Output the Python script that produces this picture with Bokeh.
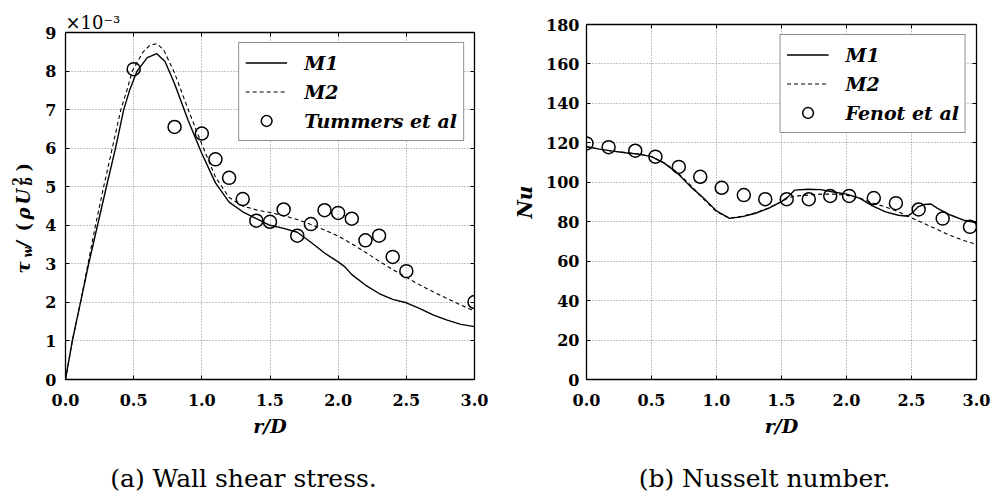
import math
from bokeh.plotting import figure
from bokeh.layouts import row, column
from bokeh.models import (Label, Legend, LegendItem, LinearAxis, FixedTicker,
                          Range1d, PrintfTickFormatter)
from bokeh.embed import file_html
from bokeh.resources import INLINE

# ---------------- data ----------------
x_ticks = [0.0, 0.5, 1.0, 1.5, 2.0, 2.5, 3.0]
tau_ticks = [0, 1, 2, 3, 4, 5, 6, 7, 8, 9]
nu_ticks = [0, 20, 40, 60, 80, 100, 120, 140, 160, 180]

# (a) wall shear stress, values in units of 1e-3
tau_m1_x = [0, 0.05, 0.11, 0.17, 0.235, 0.30, 0.367, 0.427, 0.47, 0.525, 0.60, 0.67, 0.73,
            0.8, 0.9, 1.0, 1.1, 1.2, 1.3, 1.4, 1.5, 1.6, 1.7, 1.8, 1.9, 2.0, 2.05, 2.1,
            2.2, 2.3, 2.4, 2.5, 2.6, 2.7, 2.8, 2.9, 3.0]
tau_m1_y = [0, 1.0, 2.0, 3.0, 4.0, 5.0, 6.0, 7.0, 7.5, 8.0, 8.35, 8.45, 8.25,
            7.67, 6.72, 5.86, 5.1, 4.6, 4.35, 4.17, 4.0, 3.92, 3.82, 3.56, 3.28, 3.05, 2.92, 2.72,
            2.45, 2.23, 2.08, 1.99, 1.84, 1.67, 1.54, 1.43, 1.37]
tau_m2_x = [0, 0.05, 0.11, 0.165, 0.22, 0.28, 0.343, 0.406, 0.45, 0.49, 0.57, 0.62, 0.67, 0.72,
            0.8, 0.9, 1.0, 1.1, 1.2, 1.3, 1.4, 1.5, 1.6, 1.7, 1.8, 1.9, 2.0, 2.1,
            2.2, 2.3, 2.4, 2.5, 2.6, 2.7, 2.8, 2.9, 3.0]
tau_m2_y = [0, 1.0, 2.0, 3.0, 4.0, 5.0, 6.0, 7.0, 7.5, 8.0, 8.5, 8.67, 8.71, 8.55,
            7.95, 7.0, 6.1, 5.25, 4.72, 4.5, 4.4, 4.33, 4.25, 4.15, 4.02, 3.88, 3.72, 3.52,
            3.3, 3.07, 2.85, 2.65, 2.45, 2.27, 2.1, 1.93, 1.77]
tummers_x = [0.5, 0.8, 1.0, 1.1, 1.2, 1.3, 1.4, 1.5, 1.6, 1.7, 1.8, 1.9, 2.0, 2.1,
             2.2, 2.3, 2.4, 2.5, 3.0]
tummers_y = [8.05, 6.55, 6.38, 5.71, 5.23, 4.68, 4.12, 4.09, 4.41, 3.73, 4.03, 4.39,
             4.32, 4.17, 3.61, 3.73, 3.18, 2.81, 2.01]

# (b) Nusselt number
nu_m1_x = [0, 0.1, 0.2, 0.3, 0.4, 0.5, 0.6, 0.7, 0.8, 0.9, 1.0, 1.1, 1.2, 1.3, 1.4, 1.5,
           1.55, 1.6, 1.7, 1.8, 1.9, 2.0, 2.1, 2.2, 2.3, 2.4, 2.47, 2.5, 2.55, 2.6, 2.65,
           2.7, 2.8, 2.9, 3.0]
nu_m1_y = [118, 116.8, 115.8, 115, 114.3, 113, 109.6, 104.6, 97.8, 92, 85.5, 81.7, 82.6,
           84.3, 86.8, 90.2, 92.6, 96, 96.5, 96.3, 95.1, 94, 92, 88, 85, 83.3, 82.8, 84.2,
           87.5, 88.8, 89, 86.8, 83.4, 80.8, 79.5]
nu_m2_x = [0, 0.1, 0.2, 0.3, 0.4, 0.5, 0.6, 0.7, 0.8, 0.9, 1.0, 1.1, 1.2, 1.3, 1.4, 1.5,
           1.55, 1.6, 1.7, 1.8, 1.9, 2.0, 2.1, 2.2, 2.3, 2.4, 2.5, 2.6, 2.7, 2.8, 2.9, 3.0]
nu_m2_y = [118, 116.8, 115.8, 115, 114.3, 113, 109.8, 105, 98.5, 91.5, 85, 81.8, 82.8,
           84.5, 87, 90.2, 92, 93, 93.5, 94, 94, 93.5, 92, 89.5, 87.5, 85, 82, 79, 76, 73,
           70.5, 68.5]
fenot_x = [0, 0.17, 0.375, 0.53, 0.71, 0.875, 1.04, 1.21, 1.375, 1.54, 1.71, 1.875, 2.02,
           2.21, 2.38, 2.555, 2.74, 2.95]
fenot_y = [119.7, 117.8, 116, 113, 107.8, 102.8, 97.2, 93.5, 91.4, 91.4, 91.4, 93.1, 93.1,
           92, 89.4, 86.2, 81.6, 77.4]

captions = ["(a) Wall shear stress.", "(b) Nusselt number."]

# ---------------- styling helpers ----------------
SERIF = "DejaVu Serif"
ROW_H = 443
CAP_H = 50


def base_fig(width, yr, border_left, border_right, border_top):
    p = figure(width=width, height=ROW_H, output_backend="svg", toolbar_location=None,
               x_range=Range1d(0, 3.0), y_range=Range1d(*yr),
               min_border_left=border_left, min_border_right=border_right,
               min_border_top=border_top, min_border_bottom=ROW_H - 379,
               frame_align=False)
    p.background_fill_color = "white"
    p.border_fill_color = "white"
    p.outline_line_color = "black"
    p.outline_line_width = 1.3
    p.outline_line_alpha = 1.0
    return p


def text_fig(width, height):
    p = figure(width=width, height=height, output_backend="svg", toolbar_location=None,
               x_range=Range1d(0, width), y_range=Range1d(0, height),
               x_axis_type=None, y_axis_type=None, frame_align=False,
               min_border=0, min_border_left=0, min_border_right=0,
               min_border_top=0, min_border_bottom=0)
    p.outline_line_color = None
    p.background_fill_color = "white"
    p.border_fill_color = "white"
    return p


def style_axes(p, yticks, ylab_standoff):
    xt = FixedTicker(ticks=x_ticks, minor_ticks=[])
    yt = FixedTicker(ticks=yticks, minor_ticks=[])
    for ax in p.xaxis:
        ax.ticker = xt
        ax.formatter = PrintfTickFormatter(format="%.1f")
    for ax in p.yaxis:
        ax.ticker = yt
    for ax in list(p.xaxis) + list(p.yaxis):
        ax.axis_line_color = None
        ax.major_tick_in = 4
        ax.major_tick_out = 0
        ax.minor_tick_in = 0
        ax.minor_tick_out = 0
        ax.major_tick_line_color = "black"
        ax.major_label_text_font = SERIF
        ax.major_label_text_font_style = "bold"
        ax.major_label_text_font_size = "16px"
        ax.major_label_text_color = "black"
    p.xaxis.major_label_standoff = 14
    p.yaxis.major_label_standoff = ylab_standoff
    p.xaxis.axis_label = "r/D"
    p.xaxis.axis_label_text_font = SERIF
    p.xaxis.axis_label_text_font_style = "bold italic"
    p.xaxis.axis_label_text_font_size = "19px"
    p.xaxis.axis_label_text_color = "black"
    p.xaxis.axis_label_standoff = 6
    p.xgrid.ticker = xt
    p.ygrid.ticker = yt
    for g in (p.xgrid, p.ygrid):
        g.grid_line_color = "#8a8a8a"
        g.grid_line_dash = "1 2"
        g.grid_line_width = 1
    # mirrored inward ticks on top and right (labels not painted)
    common = dict(major_tick_in=4, major_tick_out=0, minor_tick_in=0, minor_tick_out=0,
                  axis_line_color=None, major_label_text_font_size="1px",
                  major_label_text_color=None, major_label_standoff=0,
                  major_tick_line_color="black")
    p.add_layout(LinearAxis(ticker=xt, **common), "above")
    p.add_layout(LinearAxis(ticker=yt, **common), "right")


def add_series(p, mx1, my1, mx2, my2, ex, ey, exp_label):
    r1 = p.line(mx1, my1, line_color="black", line_width=1.4)
    r2 = p.line(mx2, my2, line_color="black", line_width=1.1, line_dash="4 3")
    r3 = p.scatter(ex, ey, marker="circle", size=13, fill_color=None,
                   line_color="black", line_width=1.5)
    legend = Legend(items=[LegendItem(label="M1", renderers=[r1]),
                           LegendItem(label="M2", renderers=[r2]),
                           LegendItem(label=exp_label, renderers=[r3])],
                    location="top_right", margin=10, padding=6, spacing=2,
                    glyph_width=42, glyph_height=27, label_height=20, label_standoff=17,
                    label_text_font=SERIF, label_text_font_style="bold italic",
                    label_text_font_size="19px", label_text_color="black",
                    border_line_color="#222222",
                    border_line_width=1.2, background_fill_color="white",
                    background_fill_alpha=1.0)
    p.add_layout(legend)


def lbl(p, x, y, text, size, style="normal", angle=0.0, align="left"):
    p.add_layout(Label(x=x, y=y, x_units="screen", y_units="screen", text=text,
                       text_font=SERIF, text_font_style=style, text_font_size=size,
                       text_color="black", angle=angle, text_align=align,
                       text_baseline="alphabetic"))


# ---------------- (a) y-label strip ----------------
YL_W = 40
yl = text_fig(YL_W, ROW_H)
A = math.pi / 2
base = 23   # baseline x of main text
lbl(yl, base, 170, "τ", "18px", "bold italic", A)
lbl(yl, base + 4, 186, "w", "12px", "bold italic", A)
lbl(yl, base, 196, "/", "18px", "bold italic", A)
lbl(yl, base, 212, "(", "18px", "bold", A)
lbl(yl, base, 224, "ρ", "18px", "bold italic", A)
lbl(yl, base, 239, "U", "18px", "bold italic", A)
lbl(yl, base + 4, 258, "b", "12px", "bold italic", A)
lbl(yl, base - 7, 258, "2", "12px", "bold", A)
lbl(yl, base, 272, ")", "18px", "bold", A)

# ---------------- (a) ----------------
p1 = base_fig(460, (0, 9), 65 - YL_W, 26, 32)
style_axes(p1, tau_ticks, 9)
add_series(p1, tau_m1_x, tau_m1_y, tau_m2_x, tau_m2_y, tummers_x, tummers_y, "Tummers et al")
p1.title.text = "×10⁻³"
p1.title.align = "left"
p1.title.offset = 0
p1.title.standoff = 0
p1.title.text_font = SERIF
p1.title.text_font_style = "normal"
p1.title.text_font_size = "18px"
p1.title.text_color = "black"

# ---------------- (b) ----------------
p2 = base_fig(492, (0, 180), 86, 16, 24)
style_axes(p2, nu_ticks, 7)
p2.yaxis[0].axis_label = "Nu"
p2.yaxis[0].axis_label_text_font = SERIF
p2.yaxis[0].axis_label_text_font_style = "bold italic"
p2.yaxis[0].axis_label_text_font_size = "20px"
p2.yaxis[0].axis_label_text_color = "black"
p2.yaxis[0].axis_label_standoff = 6
add_series(p2, nu_m1_x, nu_m1_y, nu_m2_x, nu_m2_y, fenot_x, fenot_y, "Fenot et al")

# ---------------- captions strip ----------------
cap = text_fig(992, CAP_H)
lbl(cap, 243, 15, captions[0], "25px", align="center")
lbl(cap, 764, 15, captions[1], "25px", align="center")

layout = column(row(yl, p1, p2, spacing=0), cap, spacing=0)
open("out.html", "w").write(file_html(layout, INLINE))
